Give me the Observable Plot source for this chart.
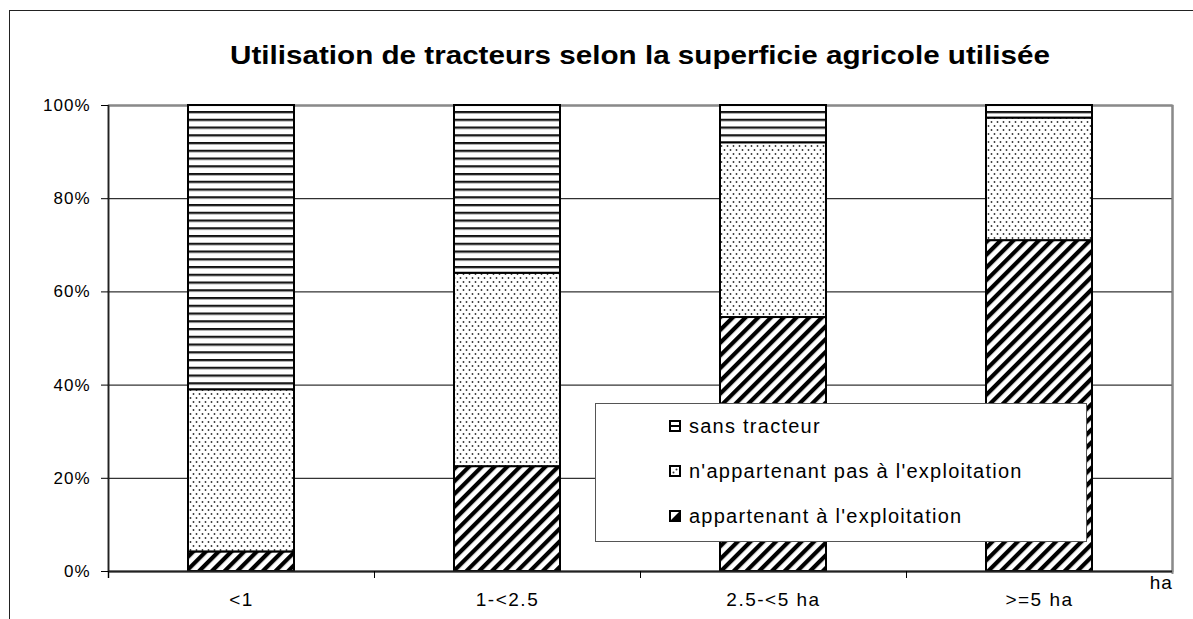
<!DOCTYPE html>
<html><head><meta charset="utf-8">
<script src="https://cdn.jsdelivr.net/npm/d3@7"></script>
<script src="https://cdn.jsdelivr.net/npm/@observablehq/plot@0.6"></script>
<style>
body{margin:0;background:#fff;font-family:"Liberation Sans",Arial,sans-serif;}
#wrap{position:relative;width:1193px;height:619px;overflow:hidden;background:#fff;}
#frame{position:absolute;left:9px;top:10px;width:1400px;height:800px;border:1.5px solid #222;box-sizing:border-box;pointer-events:none;}
#title{position:absolute;left:0;top:40px;width:1280px;text-align:center;font-weight:bold;font-size:25px;line-height:30px;color:#000;transform:scaleX(1.185);transform-origin:640px 50%;}
#chart{position:absolute;left:0;top:80px;}
#legend{position:absolute;left:595px;top:403px;width:492px;height:139px;box-sizing:border-box;border:1px solid #555;background:#fff;}
.item{position:absolute;left:73px;height:24px;display:flex;align-items:center;font-size:20px;letter-spacing:1.25px;color:#000;white-space:nowrap;}
.item svg{margin-right:8px;}
</style></head>
<body>
<div id="wrap">
  <div id="title">Utilisation de tracteurs selon la superficie agricole utilisée</div>
  <div id="chart"></div>
  <div id="legend"></div>
  <div id="frame"></div>
</div>
<script>
const categories = ["<1", "1-<2.5", "2.5-<5 ha", ">=5 ha"];
const series = ["appartenant à l'exploitation", "n'appartenant pas à l'exploitation", "sans tracteur"];
const appartenant = [4.2, 22.5, 54.5, 71.0];
const nAppartenant = [34.8, 41.5, 37.5, 26.3];
const sansTracteur = [61.0, 36.0, 8.0, 2.7];
const yTicks = [0, 20, 40, 60, 80, 100];
const legendOrder = ["sans tracteur", "n'appartenant pas à l'exploitation", "appartenant à l'exploitation"];
const patternIds = ["hatch", "dots", "hlines"];

const values = [appartenant, nAppartenant, sansTracteur];
const data = [];
categories.forEach((c, i) => {
  series.forEach((s, j) => data.push({cat: c, series: s, value: values[j][i]}));
});

const W = 1193, H = 539, ML = 108, MR = 21, MT = 25, MB = 48;
const step = (W - ML - MR) / categories.length;

const svg = Plot.plot({
  width: W, height: H,
  marginLeft: ML, marginRight: MR, marginTop: MT, marginBottom: MB,
  style: {fontFamily: "'Liberation Sans', Arial, sans-serif", fontSize: "17px", color: "#000", background: "transparent", overflow: "visible"},
  x: {domain: categories, paddingInner: 0.6, paddingOuter: 0.3, label: null},
  y: {domain: [0, 100], label: null},
  color: {domain: series, range: patternIds.map(id => `url(#${id})`)},
  marks: [
    Plot.frame({stroke: "#000", strokeWidth: 1.5}),
    Plot.ruleY(yTicks.slice(1, -1), {stroke: "#000", strokeWidth: 1}),
    Plot.ruleY([100], {stroke: "#8a8a8a", strokeWidth: 2}),
    Plot.ruleX([categories[categories.length - 1]], {dx: step / 2, stroke: "#8a8a8a", strokeWidth: 2, insetBottom: -3}),
    Plot.barY(data, {x: "cat", y: "value", fill: "series", stroke: "#000", strokeWidth: 2}),
    Plot.ruleY([0], {stroke: "#222", strokeWidth: 2}),
    Plot.ruleX([categories[0]], {dx: -step / 2, stroke: "#222", strokeWidth: 1.5, insetBottom: -7}),
    Plot.axisY(yTicks, {tickSize: 7, tickPadding: 11, tickFormat: d => d + "%", fontSize: 17, stroke: "#000"}),
    Plot.axisX({tickSize: 7, tickFormat: () => "", dx: -step / 2, stroke: "#000"}),
    Plot.axisX({tickSize: 0, tickPadding: 21, fontSize: 19}),
    Plot.text(["ha"], {frameAnchor: "bottom-right", dy: 17, textAnchor: "end", fontSize: 19})
  ]
});

const sel = d3.select(svg);
sel.selectAll("g[aria-label='y-axis tick label']").style("letter-spacing", "1px").attr("font-size", 17);
sel.selectAll("g[aria-label='x-axis tick label']").style("letter-spacing", "1.5px").attr("font-size", 19);
sel.selectAll("g[aria-label='text']").style("letter-spacing", "0.8px").attr("font-size", 19);

const defs = sel.insert("defs", ":first-child");
// horizontal lines
const ph = defs.append("pattern").attr("id", "hlines").attr("patternUnits", "userSpaceOnUse")
  .attr("width", 10).attr("height", 7.75);
ph.append("rect").attr("width", 10).attr("height", 7.75).attr("fill", "#fff");
ph.append("rect").attr("y", 0).attr("width", 10).attr("height", 1.9).attr("fill", "#111");
ph.append("rect").attr("y", 1.9).attr("width", 10).attr("height", 1).attr("fill", "#aaa");
// dots
const pd = defs.append("pattern").attr("id", "dots").attr("patternUnits", "userSpaceOnUse")
  .attr("width", 6).attr("height", 8);
pd.append("rect").attr("width", 6).attr("height", 8).attr("fill", "#fff");
pd.append("circle").attr("cx", 1.5).attr("cy", 2).attr("r", 0.9).attr("fill", "#333");
pd.append("circle").attr("cx", 4.5).attr("cy", 6).attr("r", 0.9).attr("fill", "#333");
// diagonal hatch
const pt = defs.append("pattern").attr("id", "hatch").attr("patternUnits", "userSpaceOnUse")
  .attr("width", 9).attr("height", 9).attr("patternTransform", "rotate(45)");
pt.append("rect").attr("width", 9).attr("height", 9).attr("fill", "#fff");
pt.append("rect").attr("x", 0).attr("width", 4.2).attr("height", 9).attr("fill", "#000");

document.getElementById("chart").appendChild(svg);

// legend
const legend = d3.select("#legend");
const tops = [10, 55, 100];
legendOrder.forEach((s, i) => {
  const it = legend.append("div").attr("class", "item").style("top", tops[i] + "px");
  const sw = it.append("svg").attr("width", 12).attr("height", 12);
  sw.append("rect").attr("x", 1).attr("y", 1).attr("width", 10).attr("height", 10).attr("fill", "#fff").attr("stroke", "#000").attr("stroke-width", 2);
  if (s === "sans tracteur") {
    sw.append("rect").attr("x", 1).attr("y", 5).attr("width", 10).attr("height", 2).attr("fill", "#000");
  } else if (s.startsWith("n'")) {
    sw.append("circle").attr("cx", 4.5).attr("cy", 7.5).attr("r", 1).attr("fill", "#333");
    sw.append("circle").attr("cx", 7.5).attr("cy", 4.5).attr("r", 1).attr("fill", "#333");
  } else {
    sw.append("path").attr("d", "M11,1 L11,11 L1,11 Z").attr("fill", "#000");
  }
  it.append("span").text(s);
});
</script>
</body></html>
